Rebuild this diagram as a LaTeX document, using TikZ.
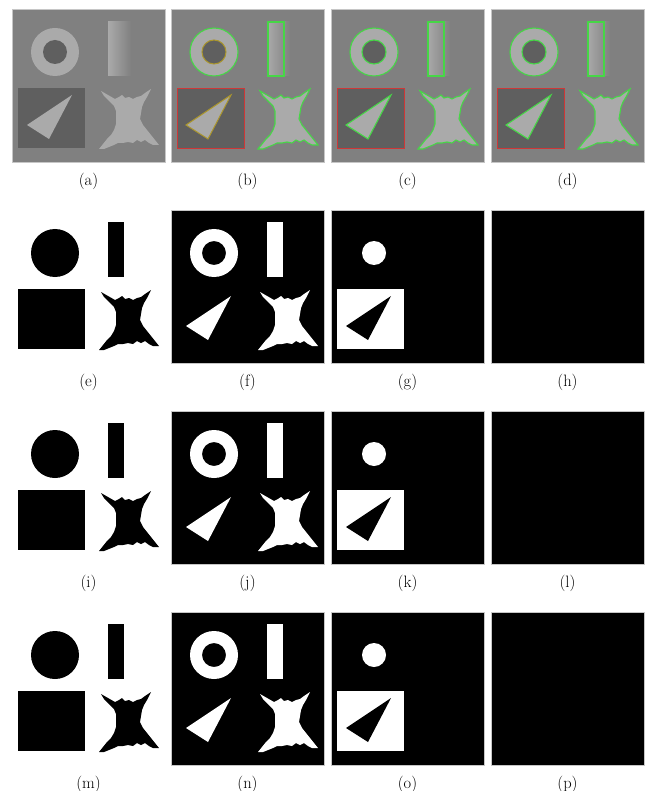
\documentclass[tikz,border=0pt]{standalone}
\usepackage{tikz}
\usetikzlibrary{positioning}

\definecolor{bggray}{RGB}{128,128,128}
\definecolor{shapegray}{RGB}{170,170,170}
\definecolor{holegray}{RGB}{95,95,95}
\definecolor{contgreen}{RGB}{70,215,70}
\definecolor{boxred}{RGB}{205,55,55}
\definecolor{olivecont}{RGB}{170,150,45}

% shapes, in panel pixels (panel is 153 x 153)
\newcommand{\blobshape}[1]{\path[#1] (89,82) -- (96,86) -- (103,90) -- (107,88) -- (110,86)
  -- (113,89) -- (117,88) -- (121,90) -- (125,88) -- (129,87) -- (133,84) -- (139,80)
  -- (135,88) -- (132,93) -- (130,98) -- (129,104) -- (128,110) -- (131,116) -- (135,121)
  -- (139,126) -- (143,131) -- (147,136) -- (141,136) -- (137,134) -- (133,131) -- (129,133)
  -- (125,131) -- (121,134) -- (116,133) -- (111,134) -- (106,134) -- (102,136) -- (97,138)
  -- (92,140) -- (87,140) -- (91,135) -- (95,130) -- (99,126) -- (102,121) -- (104,115)
  -- (104,108) -- (104,102) -- (102,97) -- (97,92) -- (92,87) -- cycle;}
\newcommand{\trishape}[1]{\path[#1] (15,116) -- (60,86) -- (37,130) -- cycle;}

\begin{document}
\begin{tikzpicture}[x=1pt, y=-1pt,
  panel/.style={draw=gray!45, line width=0.6pt},
  cont/.style={draw=contgreen, line width=1.1pt},
  lbl/.style={font=\fontsize{16.5}{19}\selectfont, inner sep=0pt}
]
\useasboundingbox[fill=white] (0,0) rectangle (645,791);

% row 1: gray scenes with contours
\foreach \col/\x in {0/12,1/171,2/331,3/491}{
  \begin{scope}[shift={(\x,9)}]
    \fill[bggray, panel] (0,0) rectangle (153,153);
    \fill[shapegray] (43,43) circle (24);
    \fill[holegray] (43,43) circle (12);
    \shade[left color=shapegray, right color=bggray] (96,13) rectangle (119,67);
    \fill[holegray] (6,79) rectangle (73,139);
    \trishape{fill=shapegray}
    \blobshape{fill=shapegray}
    \ifnum\col>0
      \draw[cont] (43,43) circle (24);
      \draw[cont] (97,13) rectangle (113,67);
      \draw[boxred, line width=0.9pt] (6,79) rectangle (73,139);
      \blobshape{cont}
      \ifnum\col=1
        \draw[olivecont, line width=1pt] (43,43) circle (12);
        \trishape{draw=olivecont, line width=1pt}
      \else
        \draw[cont] (43,43) circle (12);
        \trishape{cont}
      \fi
    \fi
  \end{scope}
}

% rows 2-4: binary masks
\foreach \y in {210,411,612}{
  \begin{scope}[shift={(12,\y)}]
    \fill[black] (43,43) circle (24);
    \fill[black] (96,12) rectangle (112,67);
    \fill[black] (6,79) rectangle (73,139);
    \blobshape{fill=black}
  \end{scope}
  \begin{scope}[shift={(171,\y)}]
    \fill[black, panel] (0,0) rectangle (153,153);
    \fill[white, even odd rule] (43,43) circle (24) (43,43) circle (12);
    \fill[white] (96,12) rectangle (112,67);
    \trishape{fill=white}
    \blobshape{fill=white}
  \end{scope}
  \begin{scope}[shift={(331,\y)}]
    \fill[black, panel] (0,0) rectangle (153,153);
    \fill[white] (43,43) circle (12);
    \fill[white] (6,79) rectangle (73,139);
    \trishape{fill=black}
  \end{scope}
  \begin{scope}[shift={(491,\y)}]
    \fill[black, panel] (0,0) rectangle (153,153);
  \end{scope}
}

% sub-figure labels
\foreach \name [count=\i from 0] in {a,...,p}{
  \pgfmathtruncatemacro{\c}{mod(\i,4)}
  \pgfmathtruncatemacro{\r}{int(\i/4)}
  \pgfmathsetmacro{\lx}{{12,171,331,491}[\c]+76.5}
  \pgfmathsetmacro{\ly}{9+201*\r+172}
  \node[lbl] (lbl-\name) at (\lx,\ly) {(\name)};
}
\end{tikzpicture}
\end{document}
